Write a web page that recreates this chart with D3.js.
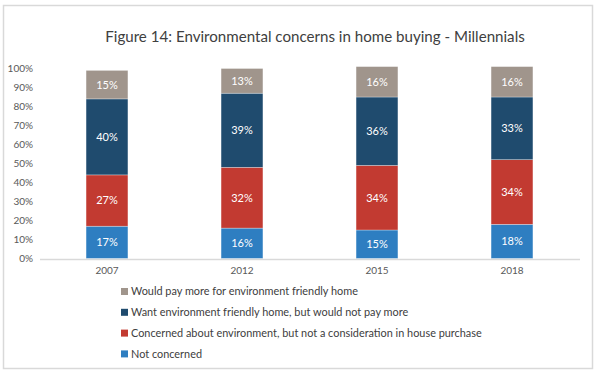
<!DOCTYPE html>
<html><head><meta charset="utf-8">
<script src="https://cdn.jsdelivr.net/npm/d3@7"></script>
<style>body{margin:0;background:#fff;}svg{display:block;font-family:Lato,"Open Sans",sans-serif;}</style>
</head><body>
<svg id="chart" width="600" height="377"></svg>
<script>
const years = ["2007", "2012", "2015", "2018"];
const seriesNames = [
  "Not concerned",
  "Concerned about environment, but not a consideration in house purchase",
  "Want environment friendly home, but would not pay more",
  "Would pay more for environment friendly home"
];
const notConcerned = [17, 16, 15, 18];
const concernedNotConsidered = [27, 32, 34, 34];
const wantNoPay = [40, 39, 36, 33];
const wouldPayMore = [15, 13, 16, 16];
const seriesColors = ["#2E7EC1", "#C23A31", "#1F4B6E", "#A0958C"];
const yTicks = [0, 10, 20, 30, 40, 50, 60, 70, 80, 90, 100];
const titleText = "Figure 14: Environmental concerns in home buying - Millennials";

const seriesValues = [notConcerned, concernedNotConsidered, wantNoPay, wouldPayMore];
const table = years.map((y, i) => {
  const row = {year: y};
  seriesNames.forEach((s, k) => row[s] = seriesValues[k][i]);
  return row;
});
const stacked = d3.stack().keys(seriesNames)(table);

const svg = d3.select("#chart");
// frame
svg.append("rect").attr("x", 3.5).attr("y", 5.5).attr("width", 589).attr("height", 363)
  .attr("fill", "#fff").attr("stroke", "#D9D9D9").attr("stroke-width", 1.5);

// title
const title = svg.append("text").attr("x", 315).attr("y", 42).attr("text-anchor", "middle")
  .attr("fill", "#404040").attr("font-size", 18).text(titleText);
const tw = title.node().getComputedTextLength();
title.attr("font-size", 18 * 420 / tw);

const x = d3.scaleBand().domain(years).range([39.5, 579.5]).paddingInner(0.69).paddingOuter(0.345);
const y = d3.scaleLinear().domain([0, 100]).range([258.5, 68.5]);

// y axis
const yAxis = svg.append("g").attr("transform", "translate(33,0)")
  .call(d3.axisLeft(y).tickValues(yTicks).tickFormat(d => d + "%").tickSize(0).tickPadding(0));
yAxis.select(".domain").remove();
yAxis.selectAll("text").attr("fill", "#595959").attr("font-size", 10).attr("font-family", "Lato, 'Open Sans', sans-serif");

// bars
const groups = svg.append("g").selectAll("g").data(stacked).join("g")
  .attr("fill", (d, i) => seriesColors[i]);
groups.selectAll("rect").data(d => d).join("rect")
  .attr("x", d => x(d.data.year))
  .attr("width", x.bandwidth())
  .attr("y", d => y(d[1]))
  .attr("height", d => y(d[0]) - y(d[1]))
  .attr("stroke", "#fff").attr("stroke-opacity", 0.5).attr("stroke-width", 0.6);

// labels
const lab = svg.append("g").selectAll("g").data(stacked).join("g");
lab.selectAll("text").data(d => d.map(v => ({v, key: d.key}))).join("text")
  .attr("x", d => x(d.v.data.year) + x.bandwidth() / 2)
  .attr("y", d => y((d.v[0] + d.v[1]) / 2))
  .attr("dy", "0.35em")
  .attr("text-anchor", "middle")
  .attr("fill", "#fff")
  .attr("font-size", 11)
  .text(d => (d.v[1] - d.v[0]) + "%");

// x axis
const xAxis = svg.append("g").attr("transform", "translate(0,259)")
  .call(d3.axisBottom(x).tickSize(0).tickPadding(8));
xAxis.select(".domain").attr("stroke", "#D9D9D9").attr("stroke-width", 1.5);
xAxis.selectAll("text").attr("fill", "#595959").attr("font-size", 10).attr("font-family", "Lato, 'Open Sans', sans-serif");

// legend
const legendOrder = [3, 2, 1, 0];
const lg = svg.append("g").selectAll("g").data(legendOrder).join("g")
  .attr("transform", (d, i) => `translate(121,${291.5 + i * 20.8})`);
lg.append("rect").attr("x", 0).attr("y", -3.5).attr("width", 7).attr("height", 7)
  .attr("fill", d => seriesColors[d]);
lg.append("text").attr("x", 10).attr("dy", "0.35em").attr("font-size", 10.9)
  .attr("fill", "#404040").text(d => seriesNames[d]);
</script>
</body></html>
